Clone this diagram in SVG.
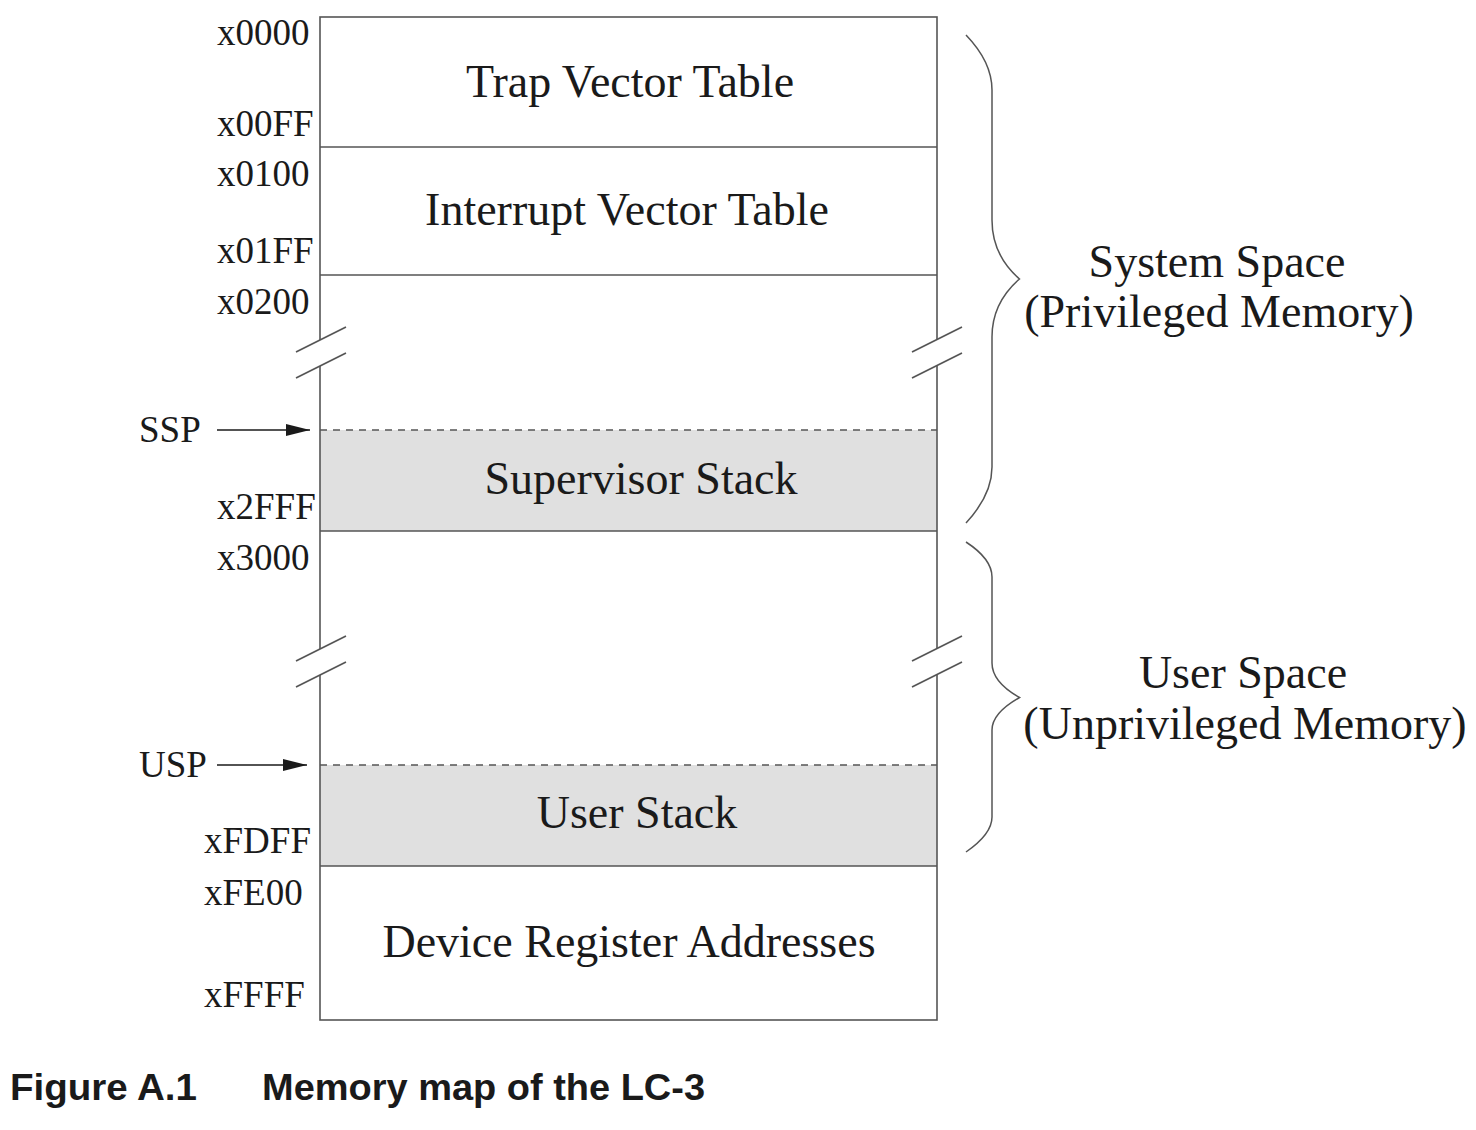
<svg xmlns="http://www.w3.org/2000/svg" width="1476" height="1130" viewBox="0 0 1476 1130">
<style>
.ln{stroke:#555;stroke-width:1.6;fill:none}
.dash{stroke:#555;stroke-width:1.5;stroke-dasharray:7,6;fill:none}
.t{font-family:"Liberation Serif","Times New Roman",serif;fill:#1a1a1a}
.big{font-size:46px}
.lab{font-size:37px}
.cap{font-family:"Liberation Sans",Arial,sans-serif;font-weight:bold;font-size:37px;fill:#1a1a1a}
.brace{stroke:#555;stroke-width:1.5;fill:none}
</style>
<defs>
<marker id="ah" markerWidth="24" markerHeight="12" refX="24" refY="6" orient="auto" markerUnits="userSpaceOnUse">
<path d="M0,0 L24,6 L0,12 Z" fill="#1a1a1a"/>
</marker>
</defs>
<rect width="1476" height="1130" fill="#fff"/>
<g id="memory">
<rect x="320" y="430" width="617" height="101" fill="#e0e0e0"/>
<rect x="320" y="765" width="617" height="101" fill="#e0e0e0"/>
<rect x="320" y="17" width="617" height="1003" class="ln"/>
<line x1="320" y1="147" x2="937" y2="147" class="ln"/>
<line x1="320" y1="275" x2="937" y2="275" class="ln"/>
<line x1="320" y1="531" x2="937" y2="531" class="ln"/>
<line x1="320" y1="866" x2="937" y2="866" class="ln"/>
<line x1="320" y1="430" x2="937" y2="430" class="dash"/>
<line x1="320" y1="765" x2="937" y2="765" class="dash"/>
</g>
<g id="breaks">
<g id="break-left-1"><path d="M296,352 L346,327 L346,353 L296,378 Z" fill="#fff"/><line x1="296" y1="352" x2="346" y2="327" class="ln"/><line x1="296" y1="378" x2="346" y2="353" class="ln"/></g>
<g id="break-right-1"><path d="M912,352 L962,327 L962,353 L912,378 Z" fill="#fff"/><line x1="912" y1="352" x2="962" y2="327" class="ln"/><line x1="912" y1="378" x2="962" y2="353" class="ln"/></g>
<g id="break-left-2"><path d="M296,661 L346,636 L346,662 L296,687 Z" fill="#fff"/><line x1="296" y1="661" x2="346" y2="636" class="ln"/><line x1="296" y1="687" x2="346" y2="662" class="ln"/></g>
<g id="break-right-2"><path d="M912,661 L962,636 L962,662 L912,687 Z" fill="#fff"/><line x1="912" y1="661" x2="962" y2="636" class="ln"/><line x1="912" y1="687" x2="962" y2="662" class="ln"/></g>
</g>
<g id="region-labels" class="t big" text-anchor="middle">
<text x="630" y="97">Trap Vector Table</text>
<text x="627" y="225">Interrupt Vector Table</text>
<text x="641" y="494">Supervisor Stack</text>
<text x="637" y="828">User Stack</text>
<text x="629" y="957">Device Register Addresses</text>
</g>
<g id="addresses" class="t lab">
<text x="217" y="45">x0000</text>
<text x="217" y="136">x00FF</text>
<text x="217" y="186">x0100</text>
<text x="217" y="263">x01FF</text>
<text x="217" y="314">x0200</text>
<text x="217" y="519">x2FFF</text>
<text x="217" y="570">x3000</text>
<text x="204" y="853">xFDFF</text>
<text x="204" y="905">xFE00</text>
<text x="204" y="1007">xFFFF</text>
</g>
<g id="pointers">
<g id="ssp"><text x="139" y="442" class="t lab">SSP</text></g>
<g id="usp"><text x="139" y="777" class="t lab">USP</text></g>
</g>
<g id="connectors">
<line x1="217" y1="430" x2="310" y2="430" stroke="#1a1a1a" stroke-width="1.5" marker-end="url(#ah)"/>
<line x1="217" y1="765" x2="307" y2="765" stroke="#1a1a1a" stroke-width="1.5" marker-end="url(#ah)"/>
</g>
<g id="system-space">
<path class="brace" d="M966,35 Q992,62 992,90 L992,220 Q992,255 1019.5,279 Q992,303 992,337 L992,467 Q992,495 966,523"/>
<text class="t big" x="1217" y="277" text-anchor="middle">System Space</text>
<text class="t big" x="1219" y="327" text-anchor="middle">(Privileged Memory)</text>
</g>
<g id="user-space">
<path class="brace" d="M966,542 Q992,559 992,577 L992,663 Q992,682 1019.5,697.5 Q992,713 992,730 L992,817 Q992,834 966,852"/>
<text class="t big" x="1243" y="688" text-anchor="middle">User Space</text>
<text class="t big" x="1245" y="739" text-anchor="middle">(Unprivileged Memory)</text>
</g>
<g id="caption">
<text class="cap" x="10" y="1100" textLength="187" lengthAdjust="spacingAndGlyphs">Figure A.1</text>
<text class="cap" x="262" y="1100" textLength="443" lengthAdjust="spacingAndGlyphs">Memory map of the LC-3</text>
</g>
</svg>
